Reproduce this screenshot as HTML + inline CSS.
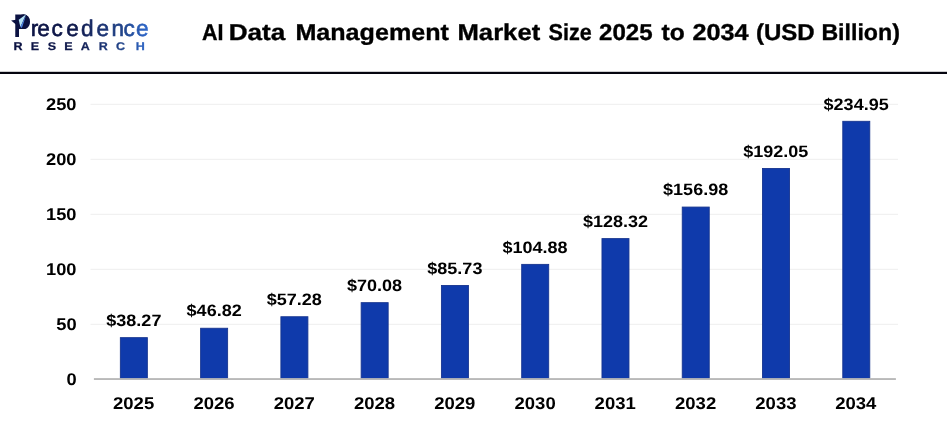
<!DOCTYPE html>
<html lang="en"><head><meta charset="utf-8"><title>AI Data Management Market Size 2025 to 2034 (USD Billion)</title>
<style>
html,body{margin:0;padding:0;background:#fff;}
body{width:947px;height:426px;overflow:hidden;font-family:"Liberation Sans",Arial,sans-serif;}
svg{display:block;}
text{font-family:"Liberation Sans",Arial,sans-serif;font-weight:bold;fill:#000;text-rendering:geometricPrecision;}
</style></head><body>
<svg width="947" height="426" viewBox="0 0 947 426">
<defs>
<linearGradient id="lg" gradientUnits="userSpaceOnUse" x1="15" y1="0" x2="148" y2="0">
<stop offset="0" stop-color="#0b1242"/><stop offset="0.45" stop-color="#101a4c"/><stop offset="0.62" stop-color="#1a2f6c"/><stop offset="0.82" stop-color="#22468c"/><stop offset="1" stop-color="#2e68cc"/>
</linearGradient>
<linearGradient id="lg2" gradientUnits="userSpaceOnUse" x1="13.4" y1="0" x2="132.1" y2="0">
<stop offset="0" stop-color="#0b1242"/><stop offset="0.45" stop-color="#101a4c"/><stop offset="0.62" stop-color="#1a2f6c"/><stop offset="0.82" stop-color="#22468c"/><stop offset="1" stop-color="#2e68cc"/>
</linearGradient>
</defs>
<rect width="947" height="426" fill="#ffffff"/>

<g id="logo">
<ellipse cx="23.6" cy="21.6" rx="5.9" ry="7.3" fill="#0b1242"/>
<polygon points="11.1,20.5 19.5,19.2 16,24.6" fill="#0b1242"/>
<text><tspan x="13.5" y="36.9" font-size="32.7" textLength="17.4" lengthAdjust="spacingAndGlyphs" style="fill:#0b1242">P</tspan><tspan x="30.7 37.2 51.6 66.3 80.9 96.4 111.4 123.6 136.1" y="35.6" font-size="22.6" style="font-weight:normal;fill:url(#lg);stroke:url(#lg);stroke-width:0.6">recedence</tspan></text>
<polygon points="25.9,14.6 18.7,19.7 20.4,27" fill="#b5e2f5"/>
<polygon points="26.2,14.7 20.4,27 21.9,28" fill="#4d86e8"/>
<text transform="scale(1.12,1)" x="12.00 27.40 42.57 57.31 72.08 88.11 103.56 121.31" y="49.7" font-size="11.2" style="fill:url(#lg2);stroke:url(#lg2);stroke-width:0.25">RESEARCH</text>
</g>

<text id="title" y="40.3" font-size="23" stroke="#000" stroke-width="0.35">
<tspan x="202.1" textLength="21.5" lengthAdjust="spacingAndGlyphs">AI</tspan> <tspan x="228.7" textLength="56.6" lengthAdjust="spacingAndGlyphs">Data</tspan> <tspan x="295.4" textLength="153.5" lengthAdjust="spacingAndGlyphs">Management</tspan> <tspan x="457.5" textLength="82.7" lengthAdjust="spacingAndGlyphs">Market</tspan> <tspan x="548.6" textLength="43.2" lengthAdjust="spacingAndGlyphs">Size</tspan> <tspan x="599.1" textLength="53.5" lengthAdjust="spacingAndGlyphs">2025</tspan> <tspan x="661.6" textLength="23.2" lengthAdjust="spacingAndGlyphs">to</tspan> <tspan x="692.5" textLength="56.1" lengthAdjust="spacingAndGlyphs">2034</tspan> <tspan x="755.9" textLength="58.8" lengthAdjust="spacingAndGlyphs">(USD</tspan> <tspan x="821.4" textLength="78.5" lengthAdjust="spacingAndGlyphs">Billion)</tspan>
</text>

<rect x="0" y="71.8" width="947" height="2.2" fill="#05050f"/>

<g stroke="#eeeeee" stroke-width="1">
<line x1="90.5" y1="104.3" x2="898" y2="104.3"/>
<line x1="90.5" y1="159.3" x2="898" y2="159.3"/>
<line x1="90.5" y1="214.3" x2="898" y2="214.3"/>
<line x1="90.5" y1="269.3" x2="898" y2="269.3"/>
<line x1="90.5" y1="324.3" x2="898" y2="324.3"/>
</g>

<g id="yl" font-size="17">
<text x="46.0" y="109.8" textLength="30.5" lengthAdjust="spacingAndGlyphs">250</text>
<text x="46.0" y="164.8" textLength="30.5" lengthAdjust="spacingAndGlyphs">200</text>
<text x="46.0" y="219.8" textLength="30.5" lengthAdjust="spacingAndGlyphs">150</text>
<text x="46.0" y="274.8" textLength="30.5" lengthAdjust="spacingAndGlyphs">100</text>
<text x="56.2" y="329.8" textLength="20.4" lengthAdjust="spacingAndGlyphs">50</text>
<text x="66.4" y="384.8" textLength="10.2" lengthAdjust="spacingAndGlyphs">0</text>
</g>

<g id="bars" fill="#0f3aab" stroke="#17358f" stroke-width="0.9">
<rect x="120.35" y="337.65" width="27.00" height="40.80"/>
<rect x="200.62" y="328.25" width="27.00" height="50.20"/>
<rect x="280.89" y="316.74" width="27.00" height="61.71"/>
<rect x="361.16" y="302.66" width="27.00" height="75.79"/>
<rect x="441.43" y="285.45" width="27.00" height="93.00"/>
<rect x="521.70" y="264.38" width="27.00" height="114.07"/>
<rect x="601.97" y="238.60" width="27.00" height="139.85"/>
<rect x="682.24" y="207.07" width="27.00" height="171.38"/>
<rect x="762.51" y="168.49" width="27.00" height="209.96"/>
<rect x="842.78" y="121.31" width="27.00" height="257.14"/>
</g>

<rect x="93.9" y="378.1" width="802" height="1.9" fill="#b9b9b9"/>

<g id="dl" font-size="16.5">
<text x="106.3" y="325.8" textLength="55.1" lengthAdjust="spacingAndGlyphs">$38.27</text>
<text x="186.6" y="316.4" textLength="55.1" lengthAdjust="spacingAndGlyphs">$46.82</text>
<text x="266.7" y="304.9" textLength="55.1" lengthAdjust="spacingAndGlyphs">$57.28</text>
<text x="347.0" y="290.8" textLength="55.1" lengthAdjust="spacingAndGlyphs">$70.08</text>
<text x="427.3" y="273.6" textLength="55.1" lengthAdjust="spacingAndGlyphs">$85.73</text>
<text x="502.5" y="252.5" textLength="65.1" lengthAdjust="spacingAndGlyphs">$104.88</text>
<text x="582.9" y="226.7" textLength="65.1" lengthAdjust="spacingAndGlyphs">$128.32</text>
<text x="663.1" y="195.2" textLength="65.1" lengthAdjust="spacingAndGlyphs">$156.98</text>
<text x="743.3" y="156.6" textLength="65.1" lengthAdjust="spacingAndGlyphs">$192.05</text>
<text x="823.6" y="109.5" textLength="65.1" lengthAdjust="spacingAndGlyphs">$234.95</text>
</g>

<g id="xl" font-size="17">
<text x="113.0" y="408.7" textLength="41.2" lengthAdjust="spacingAndGlyphs">2025</text>
<text x="193.4" y="408.7" textLength="41.2" lengthAdjust="spacingAndGlyphs">2026</text>
<text x="273.7" y="408.7" textLength="41.2" lengthAdjust="spacingAndGlyphs">2027</text>
<text x="353.9" y="408.7" textLength="41.2" lengthAdjust="spacingAndGlyphs">2028</text>
<text x="434.2" y="408.7" textLength="41.2" lengthAdjust="spacingAndGlyphs">2029</text>
<text x="514.5" y="408.7" textLength="41.2" lengthAdjust="spacingAndGlyphs">2030</text>
<text x="594.6" y="408.7" textLength="41.2" lengthAdjust="spacingAndGlyphs">2031</text>
<text x="675.0" y="408.7" textLength="41.2" lengthAdjust="spacingAndGlyphs">2032</text>
<text x="755.3" y="408.7" textLength="41.2" lengthAdjust="spacingAndGlyphs">2033</text>
<text x="835.2" y="408.7" textLength="41.2" lengthAdjust="spacingAndGlyphs">2034</text>
</g>

</svg>
</body></html>
